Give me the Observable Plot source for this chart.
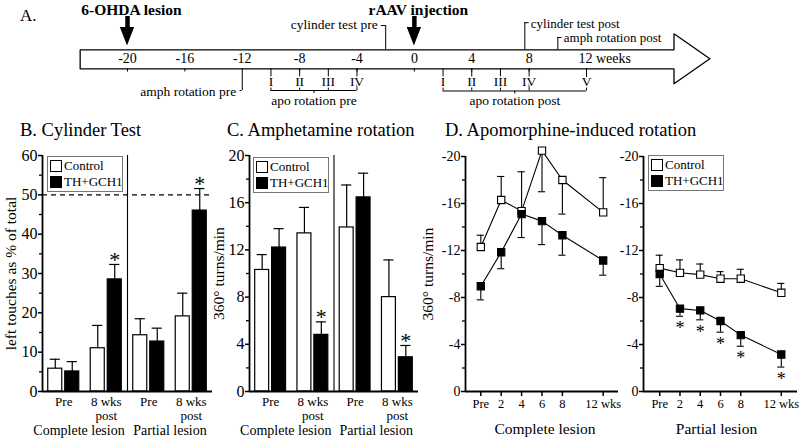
<!DOCTYPE html>
<html><head><meta charset="utf-8">
<script src="https://cdn.jsdelivr.net/npm/d3@7"></script>
<script src="https://cdn.jsdelivr.net/npm/@observablehq/plot@0.6"></script>
<style>
body{margin:0;background:#fff;}
#fig{position:relative;width:800px;height:438px;overflow:hidden;font-family:"Liberation Serif","Times New Roman",serif;color:#000;background:#fff;}
#fig svg{position:absolute;left:0;top:0;background:transparent !important;overflow:visible;font-family:"Liberation Serif","Times New Roman",serif !important;}
#fig svg text{font-family:"Liberation Serif","Times New Roman",serif !important;}
.t{position:absolute;white-space:nowrap;line-height:1;}
.legend{position:absolute;border:1px solid #777;box-sizing:border-box;background:#fff;}
.sw{position:absolute;box-sizing:border-box;border:1.2px solid #000;}
</style></head><body><div id="fig"></div>
<script>
// ---------- DATA ----------
// Panel A: timeline (weeks relative to rAAV injection)
const timelineTicks = [-20, -16, -12, -8, -4, 0, 4, 8, 12];
const timelineTickLabels = ["-20", "-16", "-12", "-8", "-4", "0", "4", "8", "12 weeks"];
const eventNames = ["6-OHDA lesion", "rAAV injection"];
const eventWeeks = [-20, 0];
const apoPreWeeks = [-10, -8, -6, -4];
const apoPreLabels = ["I", "II", "III", "IV"];
const apoPostWeeks = [2, 4, 6, 8, 12];
const apoPostLabels = ["I", "II", "III", "IV", "V"];
const cylinderPreWeek = -2, cylinderPostWeek = 7.7;
const amphPreWeek = -12, amphPostWeek = 10;

// Panels B, C: grouped bars
const series = ["Control", "TH+GCH1"];
const seriesFill = ["white", "black"];
const groups = ["Pre", "8 wks\npost", "Pre", "8 wks\npost"];
const lesions = ["Complete lesion", "Partial lesion"];

const cylControl    = [5.8, 11.0, 14.3, 19.1];
const cylControlErr = [8.2, 16.8, 18.5, 25.0];
const cylTH         = [5.1, 28.5, 12.7, 46.0];
const cylTHErr      = [7.6, 32.3, 16.1, 51.6];
const cylStar       = [false, true, false, true];

const amphControl    = [10.3, 13.4, 13.9, 8.0];
const amphControlErr = [11.6, 15.6, 17.5, 11.15];
const amphTH         = [12.2, 4.8, 16.45, 2.9];
const amphTHErr      = [13.8, 5.9, 18.5, 3.9];
const amphStar       = [false, true, false, true];

// Panel D: apomorphine rotation (turns/min)
const apoWeeks = [0, 2, 4, 6, 8, 12];
const apoWeekLabels = ["Pre", "2", "4", "6", "8", "12 wks"];
const apoCompControl    = [-12.3, -16.3, -15.35, -20.5, -18.0, -15.25];
const apoCompControlErr = [-13.3, -18.3, -18.7, -17.0, -15.1, -18.2];
const apoCompTH         = [-8.96, -11.85, -15.1, -14.5, -13.3, -11.15];
const apoCompTHErr      = [-7.8, -10.45, -13.1, -12.5, -11.6, -9.9];
const apoCompStar       = [false, false, false, false, false, false];
const apoPartControl    = [-10.5, -10.1, -9.95, -9.6, -9.6, -8.4];
const apoPartControlErr = [-11.6, -11.2, -10.85, -10.2, -10.4, -9.2];
const apoPartTH         = [-10.0, -7.05, -6.9, -6.0, -4.8, -3.15];
const apoPartTHErr      = [-8.95, -6.4, -6.1, -5.05, -3.85, -2.08];
const apoPartStar       = [false, true, true, true, true, true];

// ---------- LAYOUT ----------
const W = 800, H = 438;
const fig = document.getElementById("fig");
const baseStyle = "background: transparent; overflow: visible; font-family: 'Liberation Serif', 'Times New Roman', serif;";

function htmlText(text, left, baseline, size, weight) {
  const d = document.createElement("div");
  d.className = "t"; d.textContent = text;
  d.style.left = left + "px";
  d.style.top = (baseline - 0.8375 * size) + "px";
  d.style.fontSize = size + "px";
  if (weight) d.style.fontWeight = weight;
  fig.appendChild(d);
}
function legend(left, top) {
  const box = document.createElement("div");
  box.className = "legend";
  Object.assign(box.style, {left: left + "px", top: top + "px", width: "76px", height: "36px"});
  series.forEach((s, k) => {
    const sw = document.createElement("div");
    sw.className = "sw";
    Object.assign(sw.style, {left: "1.5px", top: (3 + k * 16) + "px", width: "12px", height: "12px", background: seriesFill[k]});
    box.appendChild(sw);
    const t = document.createElement("div");
    t.className = "t"; t.textContent = s;
    Object.assign(t.style, {left: "16px", top: (2 + k * 16) + "px", fontSize: "13px"});
    box.appendChild(t);
  });
  fig.appendChild(box);
}

// ---------- PANEL A: timeline ----------
const tlStart = -23.3, tlBodyEnd = 18.1, tlTip = 20.6;
const arrowOutline = [
  {w: tlStart, y: 49.3}, {w: tlBodyEnd, y: 49.3}, {w: tlBodyEnd, y: 33.3}, {w: tlTip, y: 58.3},
  {w: tlBodyEnd, y: 83.3}, {w: tlBodyEnd, y: 68.3}, {w: tlStart, y: 68.3}, {w: tlStart, y: 49.3}
];
const headHalf = 0.5; // weeks
const heads = eventWeeks.flatMap((w, k) => [{k, y: 27, x1: w - headHalf, x2: w + headHalf}, {k, y: 45.5, x1: w, x2: w}]);
const annot = 13.5;
const plotA = Plot.plot({
  width: W, height: 112, marginLeft: 127, marginRight: 214, marginTop: 0, marginBottom: 0,
  style: baseStyle,
  x: {domain: [-20, 12], axis: null},
  y: {type: "identity", axis: null},
  marks: [
    Plot.line(arrowOutline, {x: "w", y: "y", stroke: "black", strokeWidth: 1.3}),
    Plot.ruleX(timelineTicks.filter(w => w !== amphPreWeek), {x: d => d, y1: 68.3, y2: 71.5, stroke: "black"}),
    Plot.text(timelineTicks.slice(0, -1), {x: d => d, y: 58, text: (d, i) => timelineTickLabels[i], fontSize: 14, fill: "black"}),
    Plot.text([timelineTicks[timelineTicks.length - 1]], {x: d => d, y: 58, text: () => timelineTickLabels[timelineTickLabels.length - 1], textAnchor: "start", dx: -8, fontSize: 14, fill: "black"}),
    // events
    Plot.ruleX(eventWeeks, {x: d => d, y1: 16, y2: 28, stroke: "black", strokeWidth: 4.5}),
    Plot.areaX(heads, {y: "y", x1: "x1", x2: "x2", z: "k", fill: "black"}),
    Plot.text(eventNames, {x: (d, i) => eventWeeks[i], y: 9.5, text: d => d, dx: 4, fontSize: 15.5, fontWeight: "bold", fill: "black"}),
    // apo rotation pre / post
    Plot.ruleX(apoPreWeeks, {x: d => d, y1: 68.3, y2: 90, stroke: "black"}),
    Plot.ruleX(apoPostWeeks, {x: d => d, y1: 68.3, y2: 90.5, stroke: "black"}),
    Plot.text(apoPreWeeks, {x: d => d, y: 81, text: (d, i) => apoPreLabels[i], fontSize: annot, stroke: "white", strokeWidth: 3, fill: "black"}),
    Plot.text(apoPostWeeks, {x: d => d, y: 81, text: (d, i) => apoPostLabels[i], fontSize: annot, stroke: "white", strokeWidth: 3, fill: "black"}),
    Plot.ruleY([90], {x1: apoPreWeeks[0], x2: apoPreWeeks[apoPreWeeks.length - 1], stroke: "black"}),
    Plot.ruleY([90.5], {x1: apoPostWeeks[0], x2: apoPostWeeks[apoPostWeeks.length - 1], stroke: "black"}),
    Plot.ruleX([-7], {y1: 90, y2: 93, stroke: "black"}),
    Plot.ruleX([7], {y1: 90.5, y2: 93.5, stroke: "black"}),
    Plot.text(["apo rotation pre"], {x: -7, y: 100, text: d => d, fontSize: annot, fill: "black"}),
    Plot.text(["apo rotation post"], {x: 7, y: 100, text: d => d, fontSize: annot, fill: "black"}),
    // amph rotation pre
    Plot.ruleX([amphPreWeek], {y1: 68.3, y2: 90, stroke: "black"}),
    Plot.ruleY([90], {x1: amphPreWeek - 0.15, x2: amphPreWeek, stroke: "black"}),
    Plot.text(["amph rotation pre"], {x: amphPreWeek, y: 91, text: d => d, textAnchor: "end", dx: -6, fontSize: annot, fill: "black"}),
    // cylinder test pre
    Plot.ruleX([cylinderPreWeek], {y1: 25, y2: 49.3, stroke: "black"}),
    Plot.ruleY([25], {x1: cylinderPreWeek - 0.3, x2: cylinderPreWeek, stroke: "black"}),
    Plot.text(["cylinder test pre"], {x: cylinderPreWeek, y: 24.5, text: d => d, textAnchor: "end", dx: -8, fontSize: annot, fill: "black"}),
    // cylinder test post
    Plot.ruleX([cylinderPostWeek], {y1: 22.2, y2: 49.3, stroke: "black"}),
    Plot.ruleY([22.2], {x1: cylinderPostWeek, x2: cylinderPostWeek + 0.3, stroke: "black"}),
    Plot.text(["cylinder test post"], {x: cylinderPostWeek, y: 23, text: d => d, textAnchor: "start", dx: 6, fontSize: 13, fill: "black"}),
    // amph rotation post
    Plot.ruleX([amphPostWeek], {y1: 37, y2: 49.3, stroke: "black"}),
    Plot.ruleY([37], {x1: amphPostWeek, x2: amphPostWeek + 0.3, stroke: "black"}),
    Plot.text(["amph rotation post"], {x: amphPostWeek, y: 37, text: d => d, textAnchor: "start", dx: 6, fontSize: 13, fill: "black"})
  ]
});
fig.appendChild(plotA);

// ---------- PANELS B, C ----------
function barPanel(o) {
  const rows = [];
  groups.forEach((g, i) => {
    rows.push({i, s: 0, v: o.ctrl[i], e: o.ctrlErr[i], star: false});
    rows.push({i, s: 1, v: o.th[i], e: o.thErr[i], star: o.stars[i]});
  });
  const cx = d => d.i + (d.s === 0 ? -0.2 : 0.2);
  return Plot.plot({
    width: W, height: H, marginLeft: o.ml, marginRight: o.mr, marginTop: 155, marginBottom: 47,
    style: baseStyle,
    x: {domain: [-0.5, 3.5], axis: null},
    y: {domain: [0, o.yMax], label: null},
    marks: [
      o.dashed != null ? Plot.ruleY([o.dashed], {x1: -0.5, x2: 3.5, stroke: "black", strokeWidth: 1.1, strokeDasharray: "5,4"}) : null,
      Plot.ruleX([1.5], {y1: 0, y2: o.yMax, stroke: "black", strokeWidth: 1.1}),
      Plot.ruleX(rows, {x: cx, y1: "v", y2: "e", stroke: "black", strokeWidth: 1.2}),
      Plot.ruleY(rows, {y: "e", x1: d => cx(d) - 0.12, x2: d => cx(d) + 0.12, stroke: "black", strokeWidth: 1.2}),
      Plot.rectY(rows, {x1: d => cx(d) - 0.165, x2: d => cx(d) + 0.165, y1: 0, y2: "v", fill: d => seriesFill[d.s], stroke: "black", strokeWidth: 1.2}),
      Plot.text(rows.filter(d => d.star), {x: cx, y: "e", text: () => "*", fontSize: 22, dy: -5, fill: "black"}),
      Plot.ruleX([-0.5], {y1: 0, y2: o.yMax, stroke: "black", strokeWidth: 1.8}),
      Plot.ruleY([0], {x1: -0.5, x2: 3.5, stroke: "black", strokeWidth: 1.8}),
      Plot.axisY(o.yTicks, {tickSize: 4, tickPadding: 1, fontSize: 16, tickFormat: d => String(d), label: null, strokeWidth: 1.5, fill: "black"}),
      Plot.axisY(o.yMinor, {tickSize: 3, tickPadding: 1, tickFormat: () => "", label: null, strokeWidth: 1.3}),
      Plot.text(groups, {x: (d, i) => i, y: 0, text: d => d, lineAnchor: "top", dy: 5, fontSize: 13, lineHeight: 1.05, fill: "black"}),
      Plot.text([lesions[0]], {x: 0.5, y: 0, text: d => d, lineAnchor: "top", dy: 34, dx: -6, fontSize: 14, fill: "black"}),
      Plot.text([lesions[1]], {x: 2.5, y: 0, text: d => d, lineAnchor: "top", dy: 34, fontSize: 14, fill: "black"}),
      Plot.text([o.ylabel], {frameAnchor: "left", textAnchor: "middle", rotate: -90, dx: o.ylabelDx, text: d => d, fontSize: 15.5, fill: "black"})
    ].filter(Boolean)
  });
}
fig.appendChild(barPanel({
  ml: 42, mr: W - 212, yMax: 60, yTicks: [0, 10, 20, 30, 40, 50, 60], yMinor: [5, 15, 25, 35, 45, 55],
  ctrl: cylControl, ctrlErr: cylControlErr, th: cylTH, thErr: cylTHErr, stars: cylStar,
  dashed: 50, ylabel: "left touches as % of total", ylabelDx: -31
}));
fig.appendChild(barPanel({
  ml: 249, mr: W - 418, yMax: 20, yTicks: [0, 4, 8, 12, 16, 20], yMinor: [2, 6, 10, 14, 18],
  ctrl: amphControl, ctrlErr: amphControlErr, th: amphTH, thErr: amphTHErr, stars: amphStar,
  dashed: null, ylabel: "360° turns/min", ylabelDx: -30
}));

// ---------- PANEL D ----------
function linePanel(o) {
  const rows = [];
  apoWeeks.forEach((w, i) => {
    rows.push({w, s: 0, v: o.ctrl[i], e: o.ctrlErr[i], star: false});
    rows.push({w, s: 1, v: o.th[i], e: o.thErr[i], star: o.stars[i]});
  });
  return Plot.plot({
    width: W, height: H, marginLeft: o.ml, marginRight: o.mr, marginTop: 156, marginBottom: 47,
    style: baseStyle,
    x: {domain: o.xDomain, label: null},
    y: {domain: [0, -20], label: null},
    marks: [
      Plot.line(rows, {x: "w", y: "v", z: "s", stroke: "black", strokeWidth: 1.1}),
      Plot.ruleX(rows, {x: "w", y1: "v", y2: "e", stroke: "black", strokeWidth: 1.1}),
      Plot.ruleY(rows, {y: "e", x1: d => d.w - 0.35, x2: d => d.w + 0.35, stroke: "black", strokeWidth: 1.1}),
      Plot.dot(rows, {x: "w", y: "v", symbol: "square", r: 4.1, fill: d => seriesFill[d.s], stroke: "black", strokeWidth: 1.1}),
      Plot.text(rows.filter(d => d.star), {x: "w", y: "e", text: () => "*", fontSize: 18, dy: 12, fill: "black"}),
      Plot.ruleX([o.xDomain[0]], {y1: 0, y2: -20, stroke: "black", strokeWidth: 1.8}),
      Plot.ruleY([0], {x1: o.xDomain[0], x2: o.xDomain[1], stroke: "black", strokeWidth: 1.8}),
      Plot.axisY([0, -4, -8, -12, -16, -20], {tickSize: 4, tickPadding: 1, fontSize: 14, tickFormat: d => String(d), label: null, strokeWidth: 1.5, fill: "black"}),
      Plot.axisY([-2, -6, -10, -14, -18], {tickSize: 3, tickFormat: () => "", label: null, strokeWidth: 1.3}),
      Plot.axisX(apoWeeks, {tickSize: 5, tickPadding: 3, fontSize: 12.5, tickFormat: d => apoWeekLabels[apoWeeks.indexOf(d)], label: null, strokeWidth: 1.5, fill: "black"}),
      Plot.text([o.lesion], {frameAnchor: "bottom", text: d => d, lineAnchor: "top", dy: 31, dx: o.lesionDx, fontSize: 15.5, fill: "black"}),
      o.ylabel ? Plot.text([o.ylabel], {frameAnchor: "left", textAnchor: "middle", rotate: -90, dx: -37, text: d => d, fontSize: 15.5, fill: "black"}) : null
    ].filter(Boolean)
  });
}
fig.appendChild(linePanel({
  ml: 465, mr: W - 618, xDomain: [-1.5, 13.5],
  ctrl: apoCompControl, ctrlErr: apoCompControlErr, th: apoCompTH, thErr: apoCompTHErr, stars: apoCompStar,
  lesion: lesions[0], lesionDx: 3, ylabel: "360° turns/min"
}));
fig.appendChild(linePanel({
  ml: 643, mr: W - 797, xDomain: [-1.6, 13.6],
  ctrl: apoPartControl, ctrlErr: apoPartControlErr, th: apoPartTH, thErr: apoPartTHErr, stars: apoPartStar,
  lesion: lesions[1], lesionDx: -4, ylabel: null
}));

// ---------- titles & legends ----------
htmlText("A.", 20, 21, 17);
htmlText("B. Cylinder Test", 20, 136, 18.5);
htmlText("C. Amphetamine rotation", 227, 136.5, 18.5);
htmlText("D. Apomorphine-induced rotation", 445, 136.5, 18.5);
legend(47, 156);
legend(253, 157);
legend(648, 155);
</script></body></html>
